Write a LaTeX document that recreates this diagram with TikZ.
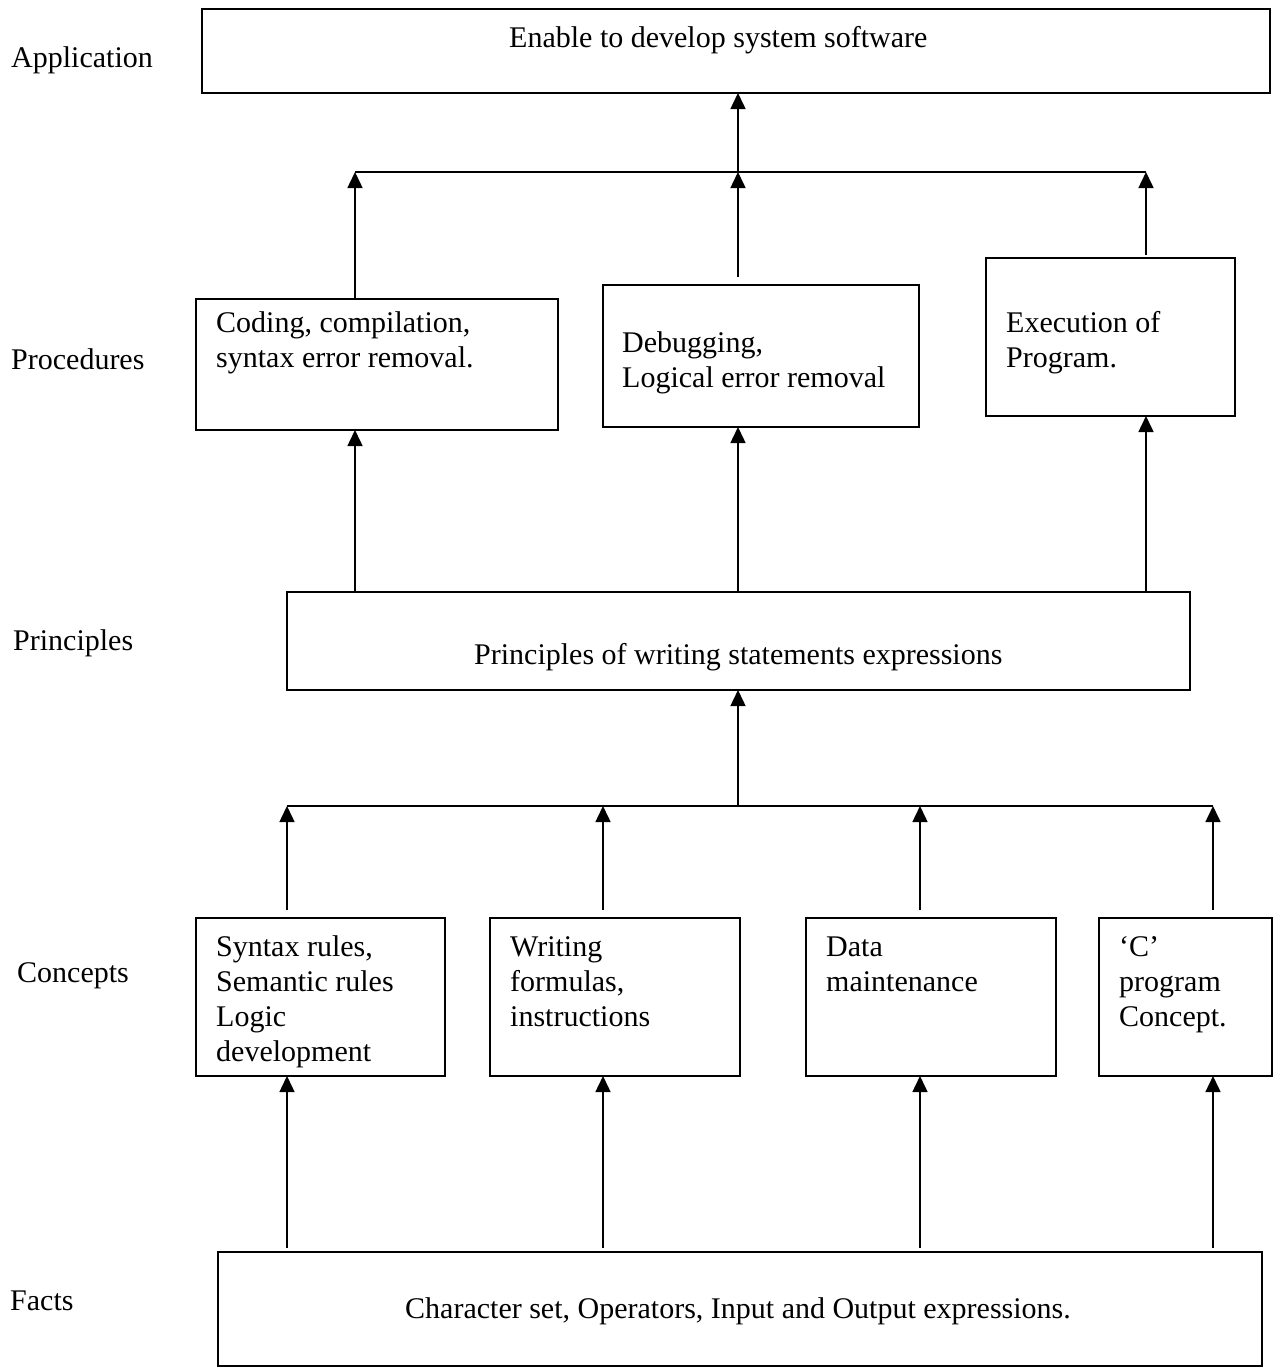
\documentclass[tikz,border=0pt]{standalone}
\usepackage{fontspec}
\setmainfont{Liberation Serif}
\usetikzlibrary{arrows.meta}
\begin{document}
\begin{tikzpicture}[x=1pt,y=-1pt,
  box/.style={draw, line width=1.5pt, inner sep=0pt, outer sep=0pt},
  lbl/.style={font=\fontsize{30}{35}\selectfont, inner sep=0pt, anchor=base west},
  txt/.style={font=\fontsize{30}{35}\selectfont, inner sep=0pt, anchor=north west, align=left},
  link/.style={line width=1.5pt},
  arr/.style={line width=1.5pt, -{Triangle[width=15pt,length=16pt]}}]
\fill[white] (0,0) rectangle (1285,1368);
\useasboundingbox (0,0) rectangle (1285,1368);

% level labels
\node[lbl] (lApp) at (11,67) {Application};
\node[lbl] (lProc) at (11,369) {Procedures};
\node[lbl] (lPrin) at (13,650) {Principles};
\node[lbl] (lConc) at (17,982) {Concepts};
\node[lbl] (lFact) at (10,1310) {Facts};

% boxes
\node[box, minimum width=1068pt, minimum height=84pt] (app) at (736,51) {};
\node[lbl] (appT) at (509,47) {Enable to develop system software};

\node[box, minimum width=362pt, minimum height=131pt] (pr1) at (377,364.5) {};
\node[txt] (pr1T) at (216,307.5) {\strut Coding, compilation,\\syntax error removal.};
\node[box, minimum width=316pt, minimum height=142pt] (pr2) at (761,356) {};
\node[txt] (pr2T) at (622,327.5) {\strut Debugging,\\Logical error removal};
\node[box, minimum width=249pt, minimum height=158pt] (pr3) at (1110.5,337) {};
\node[txt] (pr3T) at (1006,307.5) {\strut Execution of\\Program.};

\node[box, minimum width=903pt, minimum height=98pt] (prin) at (738.5,641) {};
\node[lbl] (prinT) at (474,664) {Principles of writing statements expressions};

\node[box, minimum width=249pt, minimum height=158pt] (c1) at (320.5,997) {};
\node[txt] (c1T) at (216,931.5) {\strut Syntax rules,\\Semantic rules\\Logic\\development};
\node[box, minimum width=250pt, minimum height=158pt] (c2) at (615,997) {};
\node[txt] (c2T) at (510,931.5) {\strut Writing\\formulas,\\instructions};
\node[box, minimum width=250pt, minimum height=158pt] (c3) at (931,997) {};
\node[txt] (c3T) at (826,931.5) {\strut Data\\maintenance};
\node[box, minimum width=173pt, minimum height=158pt] (c4) at (1185.5,997) {};
\node[txt] (c4T) at (1119,931.5) {\strut `C'\\program\\Concept.};

\node[box, minimum width=1044pt, minimum height=114pt] (facts) at (740,1309) {};
\node[lbl] (factsT) at (405,1318) {Character set, Operators, Input and Output expressions.};

% junction coordinates
\coordinate (a1) at (355,172);
\coordinate (a2) at (738,172);
\coordinate (a3) at (1146,172);
\coordinate (b0) at (738,806);
\coordinate (b1) at (287,806);
\coordinate (b2) at (603,806);
\coordinate (b3) at (920,806);
\coordinate (b4) at (1213,806);

% procedures -> application
\draw[link] (a1) -- (a3);
\draw[arr] (a2) -- (a2 |- app.south);
\draw[arr] (a1 |- pr1.north) -- (a1);
\draw[arr, shorten <=8pt] (a2 |- pr2.north) -- (a2);
\draw[arr, shorten <=3pt] (a3 |- pr3.north) -- (a3);

% principles -> procedures
\draw[arr] (a1 |- prin.north) -- (a1 |- pr1.south);
\draw[arr] (a2 |- prin.north) -- (a2 |- pr2.south);
\draw[arr] (a3 |- prin.north) -- (a3 |- pr3.south);

% concepts -> principles
\draw[link] (b1) -- (b4);
\draw[arr] (b0) -- (b0 |- prin.south);
\draw[arr, shorten <=8pt] (b1 |- c1.north) -- (b1);
\draw[arr, shorten <=8pt] (b2 |- c2.north) -- (b2);
\draw[arr, shorten <=8pt] (b3 |- c3.north) -- (b3);
\draw[arr, shorten <=8pt] (b4 |- c4.north) -- (b4);

% facts -> concepts
\draw[arr, shorten <=4pt] (b1 |- facts.north) -- (b1 |- c1.south);
\draw[arr, shorten <=4pt] (b2 |- facts.north) -- (b2 |- c2.south);
\draw[arr, shorten <=4pt] (b3 |- facts.north) -- (b3 |- c3.south);
\draw[arr, shorten <=4pt] (b4 |- facts.north) -- (b4 |- c4.south);
\end{tikzpicture}
\end{document}
